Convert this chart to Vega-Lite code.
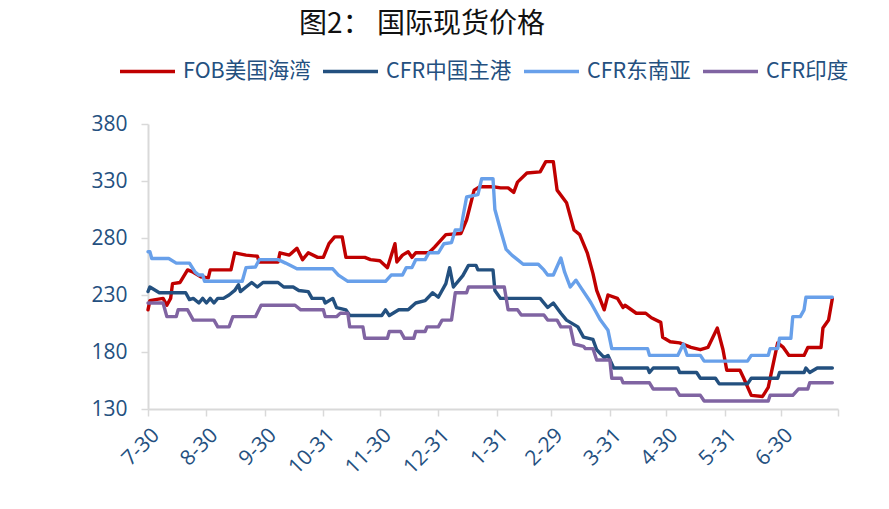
{
  "$schema": "https://vega.github.io/schema/vega-lite/v6.json",
  "width": 690,
  "height": 285,
  "autosize": {"type": "none"},
  "padding": {"left": 148, "top": 124, "right": 51, "bottom": 100},
  "background": "white",
  "title": {
    "text": "图2： 国际现货价格",
    "font": "Noto Sans CJK SC",
    "fontSize": 28,
    "fontWeight": "normal",
    "color": "#111111",
    "anchor": "middle",
    "frame": "group",
    "dx": -71,
    "offset": 3
  },
  "config": {
    "view": {"stroke": null},
    "axis": {
      "labelFont": "Open Sans",
      "labelFontSize": 21,
      "labelColor": "#24507f",
      "domainColor": "#d9d9d9",
      "domainWidth": 2,
      "tickColor": "#d9d9d9",
      "tickWidth": 1.5,
      "tickSize": 7,
      "grid": false,
      "title": null,
      "labelOverlap": false
    }
  },
  "data": {
    "values": [
      {"s":"FOB美国海湾","d":"2023-07-30","v":217},
      {"s":"FOB美国海湾","d":"2023-07-31","v":225},
      {"s":"FOB美国海湾","d":"2023-08-03","v":226},
      {"s":"FOB美国海湾","d":"2023-08-07","v":227},
      {"s":"FOB美国海湾","d":"2023-08-09","v":221},
      {"s":"FOB美国海湾","d":"2023-08-11","v":227},
      {"s":"FOB美国海湾","d":"2023-08-12","v":240},
      {"s":"FOB美国海湾","d":"2023-08-16","v":241},
      {"s":"FOB美国海湾","d":"2023-08-20","v":252},
      {"s":"FOB美国海湾","d":"2023-08-23","v":250},
      {"s":"FOB美国海湾","d":"2023-08-27","v":246},
      {"s":"FOB美国海湾","d":"2023-08-31","v":245},
      {"s":"FOB美国海湾","d":"2023-09-01","v":252},
      {"s":"FOB美国海湾","d":"2023-09-12","v":252},
      {"s":"FOB美国海湾","d":"2023-09-14","v":267},
      {"s":"FOB美国海湾","d":"2023-09-20","v":265},
      {"s":"FOB美国海湾","d":"2023-09-26","v":264},
      {"s":"FOB美国海湾","d":"2023-09-27","v":259},
      {"s":"FOB美国海湾","d":"2023-10-07","v":259},
      {"s":"FOB美国海湾","d":"2023-10-08","v":267},
      {"s":"FOB美国海湾","d":"2023-10-13","v":265},
      {"s":"FOB美国海湾","d":"2023-10-17","v":271},
      {"s":"FOB美国海湾","d":"2023-10-20","v":261},
      {"s":"FOB美国海湾","d":"2023-10-23","v":267},
      {"s":"FOB美国海湾","d":"2023-10-28","v":263},
      {"s":"FOB美国海湾","d":"2023-10-31","v":263},
      {"s":"FOB美国海湾","d":"2023-11-03","v":275},
      {"s":"FOB美国海湾","d":"2023-11-06","v":281},
      {"s":"FOB美国海湾","d":"2023-11-10","v":281},
      {"s":"FOB美国海湾","d":"2023-11-12","v":263},
      {"s":"FOB美国海湾","d":"2023-11-22","v":263},
      {"s":"FOB美国海湾","d":"2023-11-25","v":261},
      {"s":"FOB美国海湾","d":"2023-11-30","v":260},
      {"s":"FOB美国海湾","d":"2023-12-04","v":254},
      {"s":"FOB美国海湾","d":"2023-12-08","v":275},
      {"s":"FOB美国海湾","d":"2023-12-09","v":259},
      {"s":"FOB美国海湾","d":"2023-12-12","v":265},
      {"s":"FOB美国海湾","d":"2023-12-15","v":268},
      {"s":"FOB美国海湾","d":"2023-12-17","v":263},
      {"s":"FOB美国海湾","d":"2023-12-19","v":267},
      {"s":"FOB美国海湾","d":"2023-12-26","v":267},
      {"s":"FOB美国海湾","d":"2023-12-29","v":272},
      {"s":"FOB美国海湾","d":"2024-01-04","v":283},
      {"s":"FOB美国海湾","d":"2024-01-12","v":284},
      {"s":"FOB美国海湾","d":"2024-01-15","v":296},
      {"s":"FOB美国海湾","d":"2024-01-19","v":322},
      {"s":"FOB美国海湾","d":"2024-01-22","v":325},
      {"s":"FOB美国海湾","d":"2024-01-29","v":325},
      {"s":"FOB美国海湾","d":"2024-02-02","v":324},
      {"s":"FOB美国海湾","d":"2024-02-06","v":324},
      {"s":"FOB美国海湾","d":"2024-02-09","v":320},
      {"s":"FOB美国海湾","d":"2024-02-11","v":329},
      {"s":"FOB美国海湾","d":"2024-02-16","v":337},
      {"s":"FOB美国海湾","d":"2024-02-23","v":338},
      {"s":"FOB美国海湾","d":"2024-02-26","v":347},
      {"s":"FOB美国海湾","d":"2024-03-01","v":347},
      {"s":"FOB美国海湾","d":"2024-03-03","v":322},
      {"s":"FOB美国海湾","d":"2024-03-08","v":311},
      {"s":"FOB美国海湾","d":"2024-03-12","v":287},
      {"s":"FOB美国海湾","d":"2024-03-15","v":283},
      {"s":"FOB美国海湾","d":"2024-03-19","v":267},
      {"s":"FOB美国海湾","d":"2024-03-22","v":249},
      {"s":"FOB美国海湾","d":"2024-03-24","v":234},
      {"s":"FOB美国海湾","d":"2024-03-28","v":217},
      {"s":"FOB美国海湾","d":"2024-03-30","v":230},
      {"s":"FOB美国海湾","d":"2024-04-04","v":227},
      {"s":"FOB美国海湾","d":"2024-04-07","v":219},
      {"s":"FOB美国海湾","d":"2024-04-08","v":221},
      {"s":"FOB美国海湾","d":"2024-04-14","v":214},
      {"s":"FOB美国海湾","d":"2024-04-19","v":214},
      {"s":"FOB美国海湾","d":"2024-04-22","v":210},
      {"s":"FOB美国海湾","d":"2024-04-27","v":206},
      {"s":"FOB美国海湾","d":"2024-04-28","v":193},
      {"s":"FOB美国海湾","d":"2024-05-02","v":189},
      {"s":"FOB美国海湾","d":"2024-05-07","v":188},
      {"s":"FOB美国海湾","d":"2024-05-13","v":184},
      {"s":"FOB美国海湾","d":"2024-05-18","v":182},
      {"s":"FOB美国海湾","d":"2024-05-22","v":184},
      {"s":"FOB美国海湾","d":"2024-05-27","v":201},
      {"s":"FOB美国海湾","d":"2024-05-30","v":182},
      {"s":"FOB美国海湾","d":"2024-06-01","v":164},
      {"s":"FOB美国海湾","d":"2024-06-08","v":164},
      {"s":"FOB美国海湾","d":"2024-06-10","v":157},
      {"s":"FOB美国海湾","d":"2024-06-14","v":142},
      {"s":"FOB美国海湾","d":"2024-06-20","v":141},
      {"s":"FOB美国海湾","d":"2024-06-23","v":149},
      {"s":"FOB美国海湾","d":"2024-06-28","v":188},
      {"s":"FOB美国海湾","d":"2024-07-01","v":184},
      {"s":"FOB美国海湾","d":"2024-07-04","v":177},
      {"s":"FOB美国海湾","d":"2024-07-12","v":177},
      {"s":"FOB美国海湾","d":"2024-07-14","v":184},
      {"s":"FOB美国海湾","d":"2024-07-21","v":184},
      {"s":"FOB美国海湾","d":"2024-07-22","v":201},
      {"s":"FOB美国海湾","d":"2024-07-25","v":208},
      {"s":"FOB美国海湾","d":"2024-07-27","v":227},

      {"s":"CFR中国主港","d":"2023-07-30","v":233},
      {"s":"CFR中国主港","d":"2023-07-31","v":237},
      {"s":"CFR中国主港","d":"2023-08-05","v":232},
      {"s":"CFR中国主港","d":"2023-08-19","v":232},
      {"s":"CFR中国主港","d":"2023-08-21","v":226},
      {"s":"CFR中国主港","d":"2023-08-23","v":227},
      {"s":"CFR中国主港","d":"2023-08-26","v":223},
      {"s":"CFR中国主港","d":"2023-08-28","v":227},
      {"s":"CFR中国主港","d":"2023-08-30","v":223},
      {"s":"CFR中国主港","d":"2023-09-01","v":227},
      {"s":"CFR中国主港","d":"2023-09-03","v":223},
      {"s":"CFR中国主港","d":"2023-09-05","v":227},
      {"s":"CFR中国主港","d":"2023-09-08","v":227},
      {"s":"CFR中国主港","d":"2023-09-11","v":230},
      {"s":"CFR中国主港","d":"2023-09-14","v":234},
      {"s":"CFR中国主港","d":"2023-09-16","v":239},
      {"s":"CFR中国主港","d":"2023-09-17","v":233},
      {"s":"CFR中国主港","d":"2023-09-20","v":237},
      {"s":"CFR中国主港","d":"2023-09-23","v":241},
      {"s":"CFR中国主港","d":"2023-09-26","v":237},
      {"s":"CFR中国主港","d":"2023-09-29","v":241},
      {"s":"CFR中国主港","d":"2023-10-07","v":241},
      {"s":"CFR中国主港","d":"2023-10-10","v":237},
      {"s":"CFR中国主港","d":"2023-10-15","v":237},
      {"s":"CFR中国主港","d":"2023-10-18","v":234},
      {"s":"CFR中国主港","d":"2023-10-23","v":233},
      {"s":"CFR中国主港","d":"2023-10-25","v":227},
      {"s":"CFR中国主港","d":"2023-10-31","v":227},
      {"s":"CFR中国主港","d":"2023-11-01","v":223},
      {"s":"CFR中国主港","d":"2023-11-05","v":227},
      {"s":"CFR中国主港","d":"2023-11-07","v":219},
      {"s":"CFR中国主港","d":"2023-11-12","v":217},
      {"s":"CFR中国主港","d":"2023-11-14","v":212},
      {"s":"CFR中国主港","d":"2023-12-01","v":212},
      {"s":"CFR中国主港","d":"2023-12-03","v":217},
      {"s":"CFR中国主港","d":"2023-12-05","v":212},
      {"s":"CFR中国主港","d":"2023-12-10","v":217},
      {"s":"CFR中国主港","d":"2023-12-15","v":217},
      {"s":"CFR中国主港","d":"2023-12-19","v":223},
      {"s":"CFR中国主港","d":"2023-12-24","v":225},
      {"s":"CFR中国主港","d":"2023-12-28","v":232},
      {"s":"CFR中国主港","d":"2023-12-31","v":228},
      {"s":"CFR中国主港","d":"2024-01-04","v":240},
      {"s":"CFR中国主港","d":"2024-01-06","v":254},
      {"s":"CFR中国主港","d":"2024-01-08","v":237},
      {"s":"CFR中国主港","d":"2024-01-13","v":247},
      {"s":"CFR中国主港","d":"2024-01-16","v":256},
      {"s":"CFR中国主港","d":"2024-01-20","v":256},
      {"s":"CFR中国主港","d":"2024-01-21","v":252},
      {"s":"CFR中国主港","d":"2024-01-29","v":252},
      {"s":"CFR中国主港","d":"2024-01-30","v":234},
      {"s":"CFR中国主港","d":"2024-02-02","v":227},
      {"s":"CFR中国主港","d":"2024-02-23","v":227},
      {"s":"CFR中国主港","d":"2024-02-27","v":219},
      {"s":"CFR中国主港","d":"2024-03-01","v":223},
      {"s":"CFR中国主港","d":"2024-03-05","v":214},
      {"s":"CFR中国主港","d":"2024-03-08","v":208},
      {"s":"CFR中国主港","d":"2024-03-14","v":202},
      {"s":"CFR中国主港","d":"2024-03-17","v":193},
      {"s":"CFR中国主港","d":"2024-03-22","v":191},
      {"s":"CFR中国主港","d":"2024-03-24","v":182},
      {"s":"CFR中国主港","d":"2024-03-28","v":175},
      {"s":"CFR中国主港","d":"2024-03-30","v":177},
      {"s":"CFR中国主港","d":"2024-04-02","v":166},
      {"s":"CFR中国主港","d":"2024-04-20","v":166},
      {"s":"CFR中国主港","d":"2024-04-21","v":162},
      {"s":"CFR中国主港","d":"2024-04-23","v":166},
      {"s":"CFR中国主港","d":"2024-05-06","v":166},
      {"s":"CFR中国主港","d":"2024-05-07","v":162},
      {"s":"CFR中国主港","d":"2024-05-16","v":162},
      {"s":"CFR中国主港","d":"2024-05-18","v":157},
      {"s":"CFR中国主港","d":"2024-05-26","v":157},
      {"s":"CFR中国主港","d":"2024-05-28","v":152},
      {"s":"CFR中国主港","d":"2024-06-12","v":152},
      {"s":"CFR中国主港","d":"2024-06-14","v":157},
      {"s":"CFR中国主港","d":"2024-06-28","v":157},
      {"s":"CFR中国主港","d":"2024-06-29","v":162},
      {"s":"CFR中国主港","d":"2024-07-12","v":162},
      {"s":"CFR中国主港","d":"2024-07-13","v":166},
      {"s":"CFR中国主港","d":"2024-07-15","v":162},
      {"s":"CFR中国主港","d":"2024-07-19","v":166},
      {"s":"CFR中国主港","d":"2024-07-27","v":166},

      {"s":"CFR东南亚","d":"2023-07-30","v":268},
      {"s":"CFR东南亚","d":"2023-07-31","v":268},
      {"s":"CFR东南亚","d":"2023-08-01","v":262},
      {"s":"CFR东南亚","d":"2023-08-10","v":262},
      {"s":"CFR东南亚","d":"2023-08-14","v":258},
      {"s":"CFR东南亚","d":"2023-08-21","v":258},
      {"s":"CFR东南亚","d":"2023-08-24","v":250},
      {"s":"CFR东南亚","d":"2023-08-26","v":247.5},
      {"s":"CFR东南亚","d":"2023-08-28","v":247.5},
      {"s":"CFR东南亚","d":"2023-08-29","v":242},
      {"s":"CFR东南亚","d":"2023-09-18","v":242},
      {"s":"CFR东南亚","d":"2023-09-20","v":254},
      {"s":"CFR东南亚","d":"2023-09-25","v":254.6},
      {"s":"CFR东南亚","d":"2023-09-27","v":261},
      {"s":"CFR东南亚","d":"2023-10-07","v":261},
      {"s":"CFR东南亚","d":"2023-10-11","v":258},
      {"s":"CFR东南亚","d":"2023-10-17","v":253},
      {"s":"CFR东南亚","d":"2023-11-05","v":253},
      {"s":"CFR东南亚","d":"2023-11-08","v":247.5},
      {"s":"CFR东南亚","d":"2023-11-13","v":242},
      {"s":"CFR东南亚","d":"2023-12-03","v":242},
      {"s":"CFR东南亚","d":"2023-12-06","v":247.5},
      {"s":"CFR东南亚","d":"2023-12-12","v":247.5},
      {"s":"CFR东南亚","d":"2023-12-14","v":254},
      {"s":"CFR东南亚","d":"2023-12-17","v":254},
      {"s":"CFR东南亚","d":"2023-12-19","v":261},
      {"s":"CFR东南亚","d":"2023-12-24","v":261},
      {"s":"CFR东南亚","d":"2023-12-26","v":267},
      {"s":"CFR东南亚","d":"2023-12-31","v":267},
      {"s":"CFR东南亚","d":"2024-01-03","v":275},
      {"s":"CFR东南亚","d":"2024-01-07","v":276},
      {"s":"CFR东南亚","d":"2024-01-09","v":287},
      {"s":"CFR东南亚","d":"2024-01-12","v":287},
      {"s":"CFR东南亚","d":"2024-01-13","v":298},
      {"s":"CFR东南亚","d":"2024-01-15","v":316},
      {"s":"CFR东南亚","d":"2024-01-21","v":318},
      {"s":"CFR东南亚","d":"2024-01-23","v":332},
      {"s":"CFR东南亚","d":"2024-01-29","v":332},
      {"s":"CFR东南亚","d":"2024-01-30","v":305},
      {"s":"CFR东南亚","d":"2024-02-02","v":287},
      {"s":"CFR东南亚","d":"2024-02-05","v":270},
      {"s":"CFR东南亚","d":"2024-02-08","v":265},
      {"s":"CFR东南亚","d":"2024-02-11","v":261},
      {"s":"CFR东南亚","d":"2024-02-14","v":257},
      {"s":"CFR东南亚","d":"2024-02-22","v":257},
      {"s":"CFR东南亚","d":"2024-02-25","v":252},
      {"s":"CFR东南亚","d":"2024-02-27","v":247.5},
      {"s":"CFR东南亚","d":"2024-03-01","v":247.5},
      {"s":"CFR东南亚","d":"2024-03-05","v":262.5},
      {"s":"CFR东南亚","d":"2024-03-07","v":250},
      {"s":"CFR东南亚","d":"2024-03-10","v":237},
      {"s":"CFR东南亚","d":"2024-03-13","v":243},
      {"s":"CFR东南亚","d":"2024-03-15","v":238},
      {"s":"CFR东南亚","d":"2024-03-20","v":225.6},
      {"s":"CFR东南亚","d":"2024-03-21","v":223},
      {"s":"CFR东南亚","d":"2024-03-24","v":214},
      {"s":"CFR东南亚","d":"2024-03-26","v":208},
      {"s":"CFR东南亚","d":"2024-03-30","v":199},
      {"s":"CFR东南亚","d":"2024-04-01","v":183},
      {"s":"CFR东南亚","d":"2024-04-20","v":183},
      {"s":"CFR东南亚","d":"2024-04-21","v":177},
      {"s":"CFR东南亚","d":"2024-05-06","v":177},
      {"s":"CFR东南亚","d":"2024-05-09","v":187},
      {"s":"CFR东南亚","d":"2024-05-11","v":177},
      {"s":"CFR东南亚","d":"2024-05-18","v":177},
      {"s":"CFR东南亚","d":"2024-05-20","v":172},
      {"s":"CFR东南亚","d":"2024-06-12","v":172},
      {"s":"CFR东南亚","d":"2024-06-14","v":177},
      {"s":"CFR东南亚","d":"2024-06-23","v":177},
      {"s":"CFR东南亚","d":"2024-06-24","v":183},
      {"s":"CFR东南亚","d":"2024-06-28","v":183},
      {"s":"CFR东南亚","d":"2024-06-29","v":192},
      {"s":"CFR东南亚","d":"2024-07-05","v":192},
      {"s":"CFR东南亚","d":"2024-07-06","v":211},
      {"s":"CFR东南亚","d":"2024-07-10","v":211},
      {"s":"CFR东南亚","d":"2024-07-12","v":217},
      {"s":"CFR东南亚","d":"2024-07-13","v":228},
      {"s":"CFR东南亚","d":"2024-07-27","v":228},

      {"s":"CFR印度","d":"2023-07-30","v":223},
      {"s":"CFR印度","d":"2023-08-07","v":223},
      {"s":"CFR印度","d":"2023-08-09","v":211},
      {"s":"CFR印度","d":"2023-08-14","v":211},
      {"s":"CFR印度","d":"2023-08-15","v":217},
      {"s":"CFR印度","d":"2023-08-20","v":217},
      {"s":"CFR印度","d":"2023-08-23","v":208},
      {"s":"CFR印度","d":"2023-09-03","v":208},
      {"s":"CFR印度","d":"2023-09-05","v":202},
      {"s":"CFR印度","d":"2023-09-11","v":202},
      {"s":"CFR印度","d":"2023-09-13","v":211},
      {"s":"CFR印度","d":"2023-09-25","v":211},
      {"s":"CFR印度","d":"2023-09-28","v":221},
      {"s":"CFR印度","d":"2023-10-16","v":221},
      {"s":"CFR印度","d":"2023-10-19","v":217},
      {"s":"CFR印度","d":"2023-10-31","v":217},
      {"s":"CFR印度","d":"2023-11-01","v":211},
      {"s":"CFR印度","d":"2023-11-07","v":211},
      {"s":"CFR印度","d":"2023-11-09","v":214},
      {"s":"CFR印度","d":"2023-11-13","v":214},
      {"s":"CFR印度","d":"2023-11-14","v":202},
      {"s":"CFR印度","d":"2023-11-21","v":202},
      {"s":"CFR印度","d":"2023-11-22","v":192},
      {"s":"CFR印度","d":"2023-12-04","v":192},
      {"s":"CFR印度","d":"2023-12-05","v":198},
      {"s":"CFR印度","d":"2023-12-11","v":198},
      {"s":"CFR印度","d":"2023-12-13","v":192},
      {"s":"CFR印度","d":"2023-12-18","v":192},
      {"s":"CFR印度","d":"2023-12-19","v":198},
      {"s":"CFR印度","d":"2023-12-24","v":198},
      {"s":"CFR印度","d":"2023-12-25","v":202},
      {"s":"CFR印度","d":"2023-12-31","v":202},
      {"s":"CFR印度","d":"2024-01-02","v":208},
      {"s":"CFR印度","d":"2024-01-07","v":208},
      {"s":"CFR印度","d":"2024-01-09","v":232},
      {"s":"CFR印度","d":"2024-01-15","v":232},
      {"s":"CFR印度","d":"2024-01-16","v":237},
      {"s":"CFR印度","d":"2024-02-04","v":237},
      {"s":"CFR印度","d":"2024-02-06","v":217},
      {"s":"CFR印度","d":"2024-02-11","v":217},
      {"s":"CFR印度","d":"2024-02-13","v":212.5},
      {"s":"CFR印度","d":"2024-02-25","v":212.5},
      {"s":"CFR印度","d":"2024-02-27","v":208},
      {"s":"CFR印度","d":"2024-03-03","v":208},
      {"s":"CFR印度","d":"2024-03-05","v":202},
      {"s":"CFR印度","d":"2024-03-10","v":202},
      {"s":"CFR印度","d":"2024-03-12","v":187},
      {"s":"CFR印度","d":"2024-03-17","v":185},
      {"s":"CFR印度","d":"2024-03-18","v":183},
      {"s":"CFR印度","d":"2024-03-22","v":183},
      {"s":"CFR印度","d":"2024-03-24","v":173},
      {"s":"CFR印度","d":"2024-03-31","v":173},
      {"s":"CFR印度","d":"2024-04-01","v":157},
      {"s":"CFR印度","d":"2024-04-06","v":157},
      {"s":"CFR印度","d":"2024-04-07","v":153},
      {"s":"CFR印度","d":"2024-04-21","v":153},
      {"s":"CFR印度","d":"2024-04-23","v":147.5},
      {"s":"CFR印度","d":"2024-05-05","v":147.5},
      {"s":"CFR印度","d":"2024-05-07","v":142},
      {"s":"CFR印度","d":"2024-05-18","v":142},
      {"s":"CFR印度","d":"2024-05-20","v":137},
      {"s":"CFR印度","d":"2024-06-23","v":137},
      {"s":"CFR印度","d":"2024-06-24","v":142},
      {"s":"CFR印度","d":"2024-07-06","v":142},
      {"s":"CFR印度","d":"2024-07-09","v":147.5},
      {"s":"CFR印度","d":"2024-07-14","v":147.5},
      {"s":"CFR印度","d":"2024-07-15","v":153},
      {"s":"CFR印度","d":"2024-07-27","v":153}
    ]
  },
  "mark": {"type": "line", "strokeWidth": 3.4, "strokeJoin": "round", "strokeCap": "round"},
  "encoding": {
    "x": {
      "field": "d",
      "type": "temporal",
      "scale": {
        "type": "utc",
        "domain": [
          {"year": 2023, "month": 7, "date": 30, "utc": true},
          {"year": 2024, "month": 7, "date": 30, "utc": true}
        ]
      },
      "axis": {
        "values": [
          {"year": 2023, "month": 7, "date": 30, "utc": true},
          {"year": 2023, "month": 8, "date": 30, "utc": true},
          {"year": 2023, "month": 9, "date": 30, "utc": true},
          {"year": 2023, "month": 10, "date": 31, "utc": true},
          {"year": 2023, "month": 11, "date": 30, "utc": true},
          {"year": 2023, "month": 12, "date": 31, "utc": true},
          {"year": 2024, "month": 1, "date": 31, "utc": true},
          {"year": 2024, "month": 2, "date": 29, "utc": true},
          {"year": 2024, "month": 3, "date": 31, "utc": true},
          {"year": 2024, "month": 4, "date": 30, "utc": true},
          {"year": 2024, "month": 5, "date": 31, "utc": true},
          {"year": 2024, "month": 6, "date": 30, "utc": true},
          {"year": 2024, "month": 7, "date": 30, "utc": true}
        ],
        "labelExpr": "utcyear(datum.value) == 2024 && utcmonth(datum.value) == 6 ? '' : utcFormat(datum.value, '%-m-%-d')",
        "labelAngle": -45,
        "labelPadding": 8
      }
    },
    "y": {
      "field": "v",
      "type": "quantitative",
      "scale": {"domain": [130, 380], "nice": false, "zero": false},
      "axis": {"values": [130, 180, 230, 280, 330, 380], "labelPadding": 14}
    },
    "color": {
      "field": "s",
      "type": "nominal",
      "sort": null,
      "scale": {
        "domain": ["FOB美国海湾", "CFR中国主港", "CFR东南亚", "CFR印度"],
        "range": ["#c00000", "#23507f", "#68a0ea", "#8064a2"]
      },
      "legend": {
        "orient": "none",
        "direction": "horizontal",
        "legendX": -30,
        "legendY": -82,
        "title": null,
        "symbolType": "stroke",
        "symbolSize": 3025,
        "symbolStrokeWidth": 3.5,
        "labelFont": "Noto Sans CJK SC",
        "labelFontSize": 21.5,
        "labelColor": "#24507f",
        "labelOffset": 6,
        "columnPadding": 5
      }
    }
  }
}
